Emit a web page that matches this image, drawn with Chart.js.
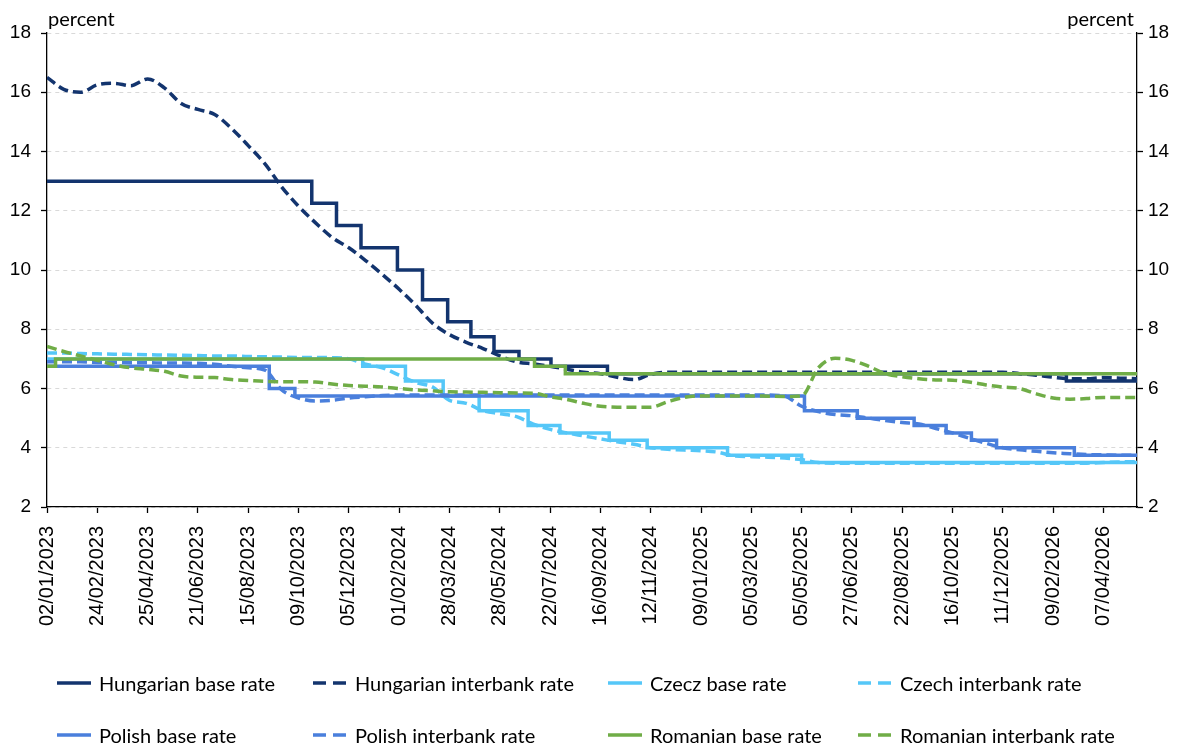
<!DOCTYPE html>
<html lang="en">
<head>
<meta charset="UTF-8">
<title>Base and interbank rates</title>
<script src="https://cdn.jsdelivr.net/npm/chart.js"></script>
<style>
  body { margin: 0; background: #fff; font-family: Lato, sans-serif; }
  .wrap { position: relative; width: 1177px; height: 744px; }
  .item { position: absolute; display: flex; align-items: center; transform: translateY(-50%);
          font-size: 20px; color: #000; white-space: nowrap; }
  .item svg { margin-right: 8px; }
</style>
</head>
<body>
<div class="wrap">
  <canvas id="rates" width="1177" height="744"></canvas>
  <div id="legend"></div>
</div>

<script>
  // x axis: business days, a label every 39 of them
  const TICK_STEP = 39;
  const SAMPLE_STEP = 13;   // interbank rates are read every 13 business days
  const LAST_INDEX = 845;

  const tickLabels = ['02/01/2023', '24/02/2023', '25/04/2023', '21/06/2023', '15/08/2023', '09/10/2023',
    '05/12/2023', '01/02/2024', '28/03/2024', '28/05/2024', '22/07/2024', '16/09/2024', '12/11/2024',
    '09/01/2025', '05/03/2025', '05/05/2025', '27/06/2025', '22/08/2025', '16/10/2025', '11/12/2025',
    '09/02/2026', '07/04/2026'];

  // base rates: [date of change, new rate]
  const hunBase = [['02/01/2023', 13], ['24/10/2023', 12.25], ['21/11/2023', 11.5], ['19/12/2023', 10.75],
    ['30/01/2024', 10], ['27/02/2024', 9], ['26/03/2024', 8.25], ['23/04/2024', 7.75], ['21/05/2024', 7.25],
    ['18/06/2024', 7], ['23/07/2024', 6.75], ['24/09/2024', 6.5], ['24/02/2026', 6.25]];
  const czeBase = [['02/01/2023', 7], ['21/12/2023', 6.75], ['08/02/2024', 6.25], ['21/03/2024', 5.75],
    ['03/05/2024', 5.25], ['28/06/2024', 4.75], ['02/08/2024', 4.5], ['26/09/2024', 4.25],
    ['08/11/2024', 4], ['07/02/2025', 3.75], ['05/05/2025', 3.5]];
  const polBase = [['02/01/2023', 6.75], ['07/09/2023', 6], ['05/10/2023', 5.75], ['08/05/2025', 5.25],
    ['03/07/2025', 5], ['04/09/2025', 4.75], ['09/10/2025', 4.5], ['06/11/2025', 4.25],
    ['04/12/2025', 4], ['05/03/2026', 3.75]];
  const romBase = [['02/01/2023', 6.75], ['11/01/2023', 7], ['05/07/2024', 6.75], ['08/08/2024', 6.5]];

  // interbank rates (3 month), one value every SAMPLE_STEP business days
  const hunInterbank = [16.5, 16.1, 16.0, 16.25, 16.3, 16.22, 16.45, 16.15, 15.62, 15.42,
    15.25, 14.78, 14.2, 13.58, 12.8, 12.15, 11.6, 11.1, 10.75, 10.32,
    9.85, 9.35, 8.8, 8.2, 7.82, 7.56, 7.35, 7.1, 6.9, 6.83,
    6.75, 6.65, 6.55, 6.5, 6.38, 6.3, 6.48, 6.55, 6.55, 6.55,
    6.55, 6.55, 6.55, 6.55, 6.55, 6.55, 6.55, 6.55, 6.55, 6.55,
    6.55, 6.55, 6.55, 6.55, 6.55, 6.55, 6.55, 6.55, 6.5, 6.45,
    6.38, 6.33, 6.33, 6.37, 6.35, 6.33];
  const czeInterbank = [7.2, 7.2, 7.18, 7.17, 7.16, 7.15, 7.14, 7.13, 7.12, 7.11,
    7.1, 7.1, 7.08, 7.07, 7.06, 7.05, 7.05, 7.04, 7.0, 6.82,
    6.7, 6.45, 6.2, 6.05, 5.6, 5.5, 5.25, 5.15, 5.05, 4.8,
    4.62, 4.5, 4.4, 4.3, 4.2, 4.12, 4.0, 3.95, 3.92, 3.9,
    3.85, 3.72, 3.7, 3.68, 3.65, 3.6, 3.5, 3.48, 3.48, 3.48,
    3.48, 3.48, 3.48, 3.48, 3.48, 3.48, 3.48, 3.48, 3.48, 3.48,
    3.48, 3.48, 3.48, 3.5, 3.52, 3.53];
  const polInterbank = [6.9, 6.9, 6.9, 6.88, 6.88, 6.87, 6.87, 6.86, 6.86, 6.85,
    6.82, 6.75, 6.7, 6.62, 5.95, 5.68, 5.58, 5.6, 5.68, 5.72,
    5.76, 5.78, 5.78, 5.78, 5.78, 5.78, 5.78, 5.78, 5.78, 5.78,
    5.78, 5.78, 5.78, 5.78, 5.78, 5.78, 5.78, 5.78, 5.78, 5.78,
    5.78, 5.78, 5.78, 5.78, 5.74, 5.4, 5.22, 5.12, 5.08, 5.0,
    4.92, 4.85, 4.8, 4.65, 4.5, 4.32, 4.15, 4.0, 3.93, 3.88,
    3.83, 3.8, 3.77, 3.76, 3.75, 3.75];
  const romInterbank = [7.42, 7.25, 7.1, 6.95, 6.8, 6.7, 6.65, 6.58, 6.42, 6.38,
    6.37, 6.3, 6.27, 6.24, 6.23, 6.23, 6.22, 6.15, 6.1, 6.08,
    6.05, 6.0, 5.95, 5.92, 5.89, 5.88, 5.87, 5.86, 5.85, 5.84,
    5.72, 5.63, 5.5, 5.4, 5.37, 5.37, 5.37, 5.55, 5.7, 5.75,
    5.75, 5.75, 5.75, 5.74, 5.73, 5.75, 6.7, 7.02, 6.95, 6.75,
    6.5, 6.4, 6.33, 6.29, 6.28, 6.22, 6.12, 6.05, 6.0, 5.82,
    5.68, 5.64, 5.66, 5.7, 5.7, 5.7];

  const NAVY = '#13346e', SKY = '#55c7f8', BLUE = '#4a7fdc', GREEN = '#70ad47';

  // date -> position on the business-day axis, placed between the labelled dates
  function toDay(s) {
    const [d, m, y] = s.split('/').map(Number);
    return Date.UTC(y, m - 1, d) / 864e5;
  }
  const tickDays = tickLabels.map(toDay);
  function dayIndex(s) {
    const t = toDay(s);
    let i = 0;
    while (i < tickDays.length - 2 && t >= tickDays[i + 1]) i++;
    return TICK_STEP * (i + (t - tickDays[i]) / (tickDays[i + 1] - tickDays[i]));
  }

  function stepPoints(list) {
    const pts = list.map(([d, v]) => ({ x: dayIndex(d), y: v }));
    pts.push({ x: LAST_INDEX, y: list[list.length - 1][1] });
    return pts;
  }
  function samplePoints(values) {
    return values.map((v, k) => ({ x: k * SAMPLE_STEP, y: v }));
  }

  const series = [
    { label: 'Hungarian base rate', color: NAVY, dashed: false, data: stepPoints(hunBase) },
    { label: 'Hungarian interbank rate', color: NAVY, dashed: true, data: samplePoints(hunInterbank) },
    { label: 'Czecz base rate', color: SKY, dashed: false, data: stepPoints(czeBase) },
    { label: 'Czech interbank rate', color: SKY, dashed: true, data: samplePoints(czeInterbank) },
    { label: 'Polish base rate', color: BLUE, dashed: false, data: stepPoints(polBase) },
    { label: 'Polish interbank rate', color: BLUE, dashed: true, data: samplePoints(polInterbank) },
    { label: 'Romanian base rate', color: GREEN, dashed: false, data: stepPoints(romBase) },
    { label: 'Romanian interbank rate', color: GREEN, dashed: true, data: samplePoints(romInterbank) }
  ];

  const datasets = series.map((s, i) => ({
    label: s.label,
    data: s.data,
    borderColor: s.color,
    backgroundColor: s.color,
    borderWidth: 3.5,
    borderDash: s.dashed ? [10, 5] : [],
    stepped: s.dashed ? false : 'before',
    cubicInterpolationMode: s.dashed ? 'monotone' : 'default',
    pointRadius: 0,
    fill: false,
    order: series.length - i   // later series drawn on top, as in the original
  }));

  const percentLabels = {
    id: 'percentLabels',
    afterDraw(chart) {
      const { ctx, chartArea } = chart;
      ctx.save();
      ctx.font = '20px Lato';
      ctx.fillStyle = '#000';
      ctx.textBaseline = 'alphabetic';
      ctx.textAlign = 'left';
      ctx.fillText('percent', chartArea.left + 1, chartArea.top - 7);
      ctx.textAlign = 'right';
      ctx.fillText('percent', chartArea.right - 3, chartArea.top - 7);
      ctx.restore();
    }
  };

  const yTicks = (pad) => ({ stepSize: 2, color: '#000', font: { size: 19 }, padding: pad });

  new Chart(document.getElementById('rates'), {
    type: 'line',
    data: { datasets },
    options: {
      responsive: false,
      animation: false,
      layout: { padding: { top: 33 } },
      plugins: { legend: { display: false }, tooltip: { enabled: false } },
      scales: {
        x: {
          type: 'linear',
          min: 0,
          max: LAST_INDEX,
          afterBuildTicks: s => { s.ticks = tickLabels.map((_, i) => ({ value: i * TICK_STEP })); },
          afterFit: s => { s.height = 237; },
          ticks: {
            autoSkip: false, minRotation: 90, maxRotation: 90, padding: 13,
            color: '#000', font: { size: 20 },
            callback: v => tickLabels[Math.round(v / TICK_STEP)]
          },
          grid: { drawOnChartArea: false, tickLength: 6, tickColor: '#000', tickWidth: 1.3 },
          border: { color: '#000', width: 1.3 }
        },
        y: {
          position: 'left', min: 2, max: 18,
          ticks: yTicks(10),
          grid: { color: '#d9d9d9', lineWidth: 1, tickLength: 6, tickColor: '#000', tickWidth: 1.3 },
          border: { color: '#000', width: 1.3, dash: [4, 4] },
          afterFit: s => { s.width = 47; }
        },
        y2: {
          position: 'right', min: 2, max: 18,
          ticks: yTicks(5),
          grid: { drawOnChartArea: false, tickLength: 6, tickColor: '#000', tickWidth: 1.3 },
          border: { color: '#000', width: 1.3 },
          afterFit: s => { s.width = 40; }
        }
      }
    },
    plugins: [percentLabels]
  });

  // legend: two rows of four
  const legendCols = [57, 313, 608, 858];
  const legendRows = [683, 735];
  const legend = document.getElementById('legend');
  series.forEach((s, i) => {
    const item = document.createElement('div');
    item.className = 'item';
    item.style.left = legendCols[i % 4] + 'px';
    item.style.top = legendRows[Math.floor(i / 4)] + 'px';
    const dash = s.dashed ? ' stroke-dasharray="13 7"' : '';
    item.innerHTML = '<svg width="34" height="6"><line x1="0" y1="3" x2="34" y2="3" stroke="' + s.color +
      '" stroke-width="3.5"' + dash + '/></svg><span>' + s.label + '</span>';
    legend.appendChild(item);
  });
</script>
</body>
</html>
